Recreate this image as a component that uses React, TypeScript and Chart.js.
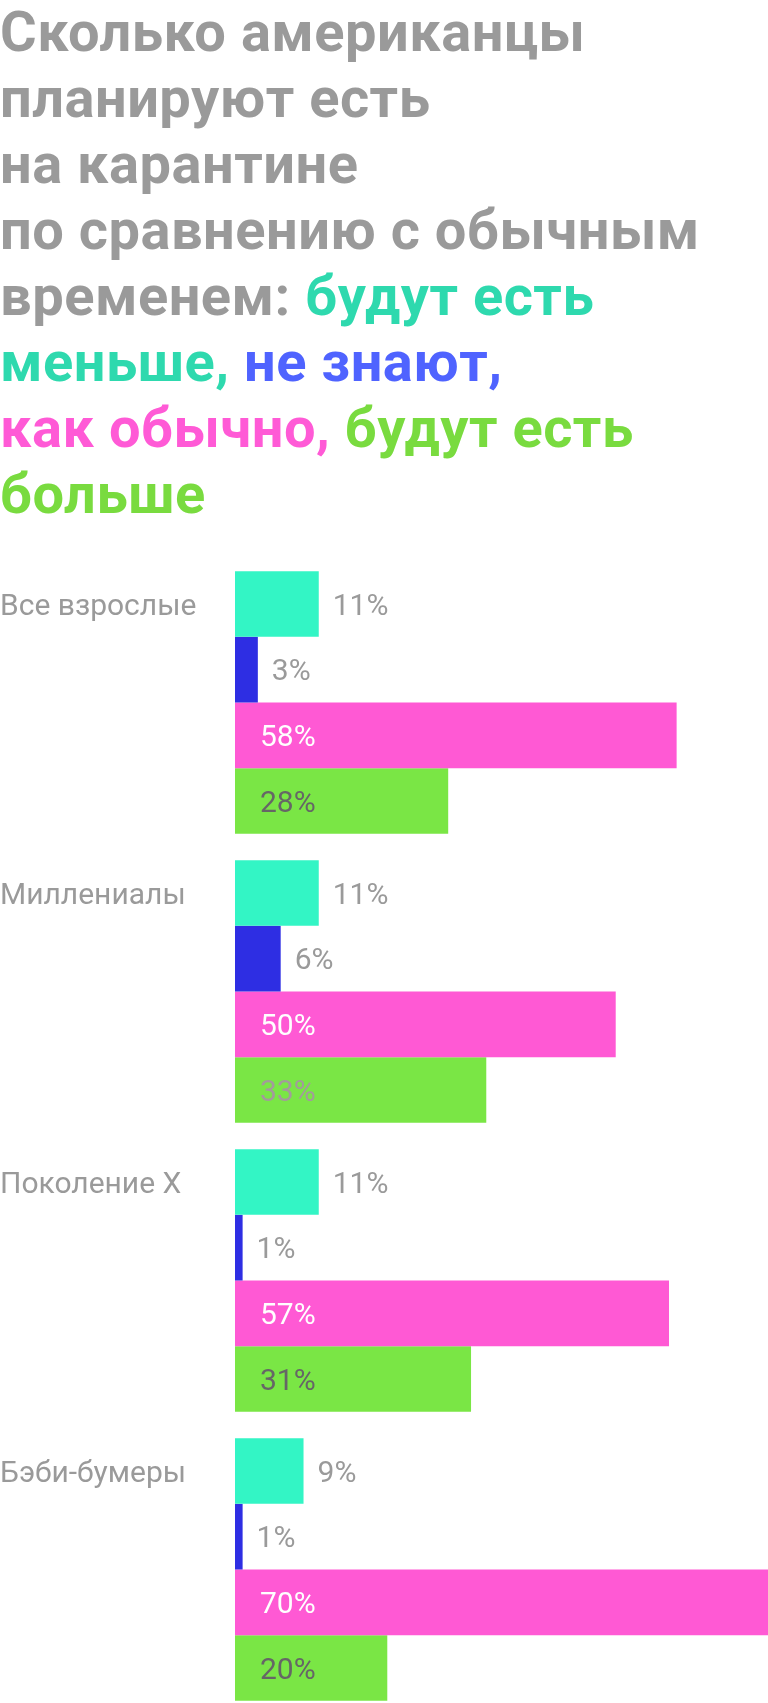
import React, { useEffect, useRef } from "react";
import { Chart, registerables } from "chart.js";

Chart.register(...registerables);

// ---- data ----
const categories = ["Все взрослые", "Миллениалы", "Поколение X", "Бэби-бумеры"];
const eatLess = [11, 11, 11, 9];
const dontKnow = [3, 6, 1, 1];
const asUsual = [58, 50, 57, 70];
const eatMore = [28, 33, 31, 20];
const seriesNames = ["будут есть меньше", "не знают", "как обычно", "будут есть больше"];

// ---- styles ----
const GREY = "#9a9a9a";
const barColors = ["#33f5c5", "#2e2ee3", "#ff59d4", "#7ae645"];
const titleColors = { grey: "#9a9a9a", teal: "#2ed9ae", blue: "#4f63ff", pink: "#ff5ad6", green: "#79db3f" };
const insideLabelColors = ["#ffffff", "#ffffff", "#ffffff", "#ffffff"];
const greenLabelColors = ["#666666", "#a39b9b", "#666666", "#666666"];
const LABEL_FONT_SIZE = 30;
const FONT = "Roboto";

const labelPlugin = {
  id: "customLabels",
  afterDatasetsDraw(chart: any) {
    const ctx = chart.ctx;
    ctx.save();
    ctx.font = `400 ${LABEL_FONT_SIZE}px ${FONT}`;
    ctx.textBaseline = "alphabetic";
    ctx.textAlign = "left";
    const capHalf = (LABEL_FONT_SIZE * 0.711) / 2;
    // group labels
    const meta0 = chart.getDatasetMeta(0);
    meta0.data.forEach((el: any, i: number) => {
      ctx.fillStyle = GREY;
      ctx.fillText(chart.data.labels[i], 0, el.y + capHalf);
    });
    chart.data.datasets.forEach((ds: any, di: number) => {
      const meta = chart.getDatasetMeta(di);
      meta.data.forEach((el: any, i: number) => {
        const v = ds.data[i];
        const txt = `${v}%`;
        let x: number;
        let color: string;
        if (di >= 2) {
          x = el.base + 25;
          color = di === 2 ? insideLabelColors[i] : greenLabelColors[i];
        } else {
          x = el.x + 14;
          color = GREY;
        }
        ctx.fillStyle = color;
        ctx.fillText(txt, x, el.y + capHalf);
      });
    });
    ctx.restore();
  },
};

function ChartCanvas() {
  const ref = useRef<HTMLCanvasElement | null>(null);
  useEffect(() => {
    if (!ref.current) return;
    const seriesValues = [eatLess, dontKnow, asUsual, eatMore];
    const chart = new Chart(ref.current, {
      type: "bar",
      data: {
        labels: categories,
        datasets: seriesValues.map((vals, i) => ({
          label: seriesNames[i],
          data: vals,
          backgroundColor: barColors[i],
          borderWidth: 0,
          barPercentage: 1,
          categoryPercentage: 0.909,
        })),
      },
      options: {
        indexAxis: "y",
        animation: false,
        responsive: false,
        maintainAspectRatio: false,
        devicePixelRatio: 1,
        layout: { padding: { top: 18, bottom: 6, left: 235, right: 0 } },
        scales: {
          x: { display: false, min: 0, max: 70 },
          y: { display: false },
        },
        plugins: {
          legend: { display: false },
          tooltip: { enabled: false },
          title: { display: false },
        },
      },
      plugins: [labelPlugin],
    } as any);
    return () => chart.destroy();
  }, []);
  return (
    <canvas
      ref={ref}
      width={768}
      height={1180}
      style={{ position: "absolute", left: 0, top: 540, width: 768, height: 1180 }}
    />
  );
}

export default function App() {
  const t = titleColors;
  return (
    <div style={{ position: "relative", width: 768, height: 1703, overflow: "hidden", background: "#fff" }}>
      <style>{"body{margin:0;}"}</style>
      <div
        style={{
          position: "absolute",
          left: 0,
          top: -1,
          fontFamily: FONT,
          fontWeight: 700,
          fontSize: 56,
          lineHeight: "66px",
          color: t.grey,
          whiteSpace: "nowrap",
          letterSpacing: "0.5px",
        }}
      >
        Сколько американцы
        <br />
        планируют есть
        <br />
        на карантине
        <br />
        по сравнению с обычным
        <br />
        временем: <span style={{ color: t.teal }}>будут есть</span>
        <br />
        <span style={{ color: t.teal }}>меньше,</span> <span style={{ color: t.blue }}>не знают,</span>
        <br />
        <span style={{ color: t.pink }}>как обычно,</span> <span style={{ color: t.green }}>будут есть</span>
        <br />
        <span style={{ color: t.green }}>больше</span>
      </div>
      <ChartCanvas />
    </div>
  );
}
